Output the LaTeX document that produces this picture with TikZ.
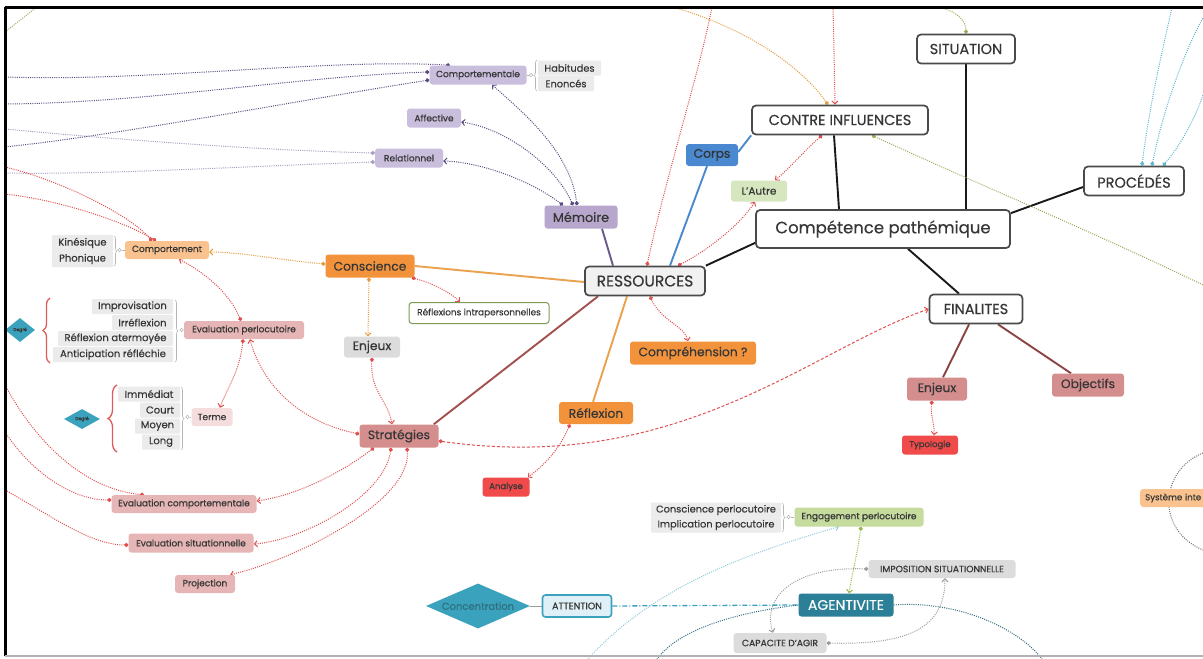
\documentclass[tikz,border=0pt]{standalone}
\usepackage{fontspec}
\setmainfont{Poppins}[RawFeature={embolden=0.4}]
\usetikzlibrary{arrows.meta,shapes.geometric,decorations.pathreplacing}
\pgfdeclarelayer{back}
\pgfdeclarelayer{bg}
\pgfsetlayers{back,bg,main}

\definecolor{ink}{HTML}{363636}
\definecolor{frame}{HTML}{4A4A4A}
\definecolor{resfill}{HTML}{F1F1F1}
\definecolor{purpleA}{HTML}{B8A7CD}
\definecolor{purpleB}{HTML}{CABEDD}
\definecolor{purpleLine}{HTML}{6A5A8C}
\definecolor{purpleDot}{HTML}{5A4C80}
\definecolor{purpleLight}{HTML}{A89DBC}
\definecolor{blueC}{HTML}{4A88CF}
\definecolor{orangeA}{HTML}{F2933C}
\definecolor{orangeB}{HTML}{F9C28E}
\definecolor{orangeLine}{HTML}{EBA24F}
\definecolor{orangeDot}{HTML}{E69A3A}
\definecolor{roseA}{HTML}{D58E8E}
\definecolor{roseB}{HTML}{E6B5B5}
\definecolor{roseC}{HTML}{F6DDDD}
\definecolor{brownLine}{HTML}{A3504F}
\definecolor{redA}{HTML}{F04A4A}
\definecolor{redDot}{HTML}{E04E4E}
\definecolor{greenA}{HTML}{D6E6BF}
\definecolor{greenB}{HTML}{C6DB9E}
\definecolor{greenBorder}{HTML}{7D9B55}
\definecolor{greenDot}{HTML}{9AB84A}
\definecolor{olive}{HTML}{A6A65A}
\definecolor{grayA}{HTML}{EBEBEB}
\definecolor{grayB}{HTML}{DCDCDC}
\definecolor{grayDot}{HTML}{9C9C9C}
\definecolor{tealA}{HTML}{3BA2BD}
\definecolor{tealB}{HTML}{2B7F96}
\definecolor{tealPale}{HTML}{DFF1F6}
\definecolor{tealDot}{HTML}{2F6F80}
\definecolor{cyanDot}{HTML}{5BB8CC}
\definecolor{skyDot}{HTML}{8CCBDB}
\definecolor{braceRed}{HTML}{E05A5A}
\definecolor{braceGray}{HTML}{B5B5B5}

\tikzset{
  sz/.style 2 args={minimum width=#1pt, minimum height=#2pt},
  fs/.style={font=\fontsize{#1}{#1}\selectfont},
  bx/.style={rectangle, rounded corners=3pt, inner sep=0pt, text=ink},
  mjr/.style={bx, draw=frame, line width=1.7pt, fill=white, rounded corners=4pt, fs=14.5},
  mdn/.style={bx, fs=12.3},
  smn/.style={bx, fs=9},
  itm/.style={bx, fill=grayA, rounded corners=1pt, fs=10},
  rhomb/.style={diamond, fill=tealA, inner sep=0pt, aspect=2.3},
  knot/.style={circle, draw=braceGray, line width=0.6pt, fill=white, inner sep=0pt, minimum size=3.5pt},
  lk/.style={line width=1.9pt},
  dotl/.style={line width=1pt, dash pattern=on 1pt off 1.2pt},
  dotarr/.style={dotl, arrows={Circle[length=4pt]-Straight Barb[length=3pt,width=6pt]}},
  arr/.style={dotl, arrows={-Straight Barb[length=3pt,width=6pt]}},
  dotend/.style={dotl, arrows={-Circle[length=4pt]}},
  dotbeg/.style={dotl, arrows={Circle[length=4pt]-}},
  brc/.style={decorate, decoration={brace, amplitude=#1}},
}

\begin{document}
\begin{tikzpicture}[x=1pt,y=-1pt]
\useasboundingbox (0,0) rectangle (1203,659);
\begin{pgfonlayer}{back}
\fill[white] (0,0) rectangle (1203,659);
\end{pgfonlayer}

% ---------- main branches ----------
\node[mjr, sz={254}{38}, fs=16.5] (comp) at (883,229) {Compétence pathémique};
\node[mjr, sz={98}{29}] (sit) at (966,49) {SITUATION};
\node[mjr, sz={176}{29}] (contre) at (840,120) {CONTRE INFLUENCES};
\node[mjr, sz={100}{29}] (proc) at (1134,181) {PROCÉDÉS};
\node[mjr, sz={93}{29}] (fin) at (976,309) {FINALITES};
\node[mjr, sz={120}{29}, fill=resfill, fs=15.5] (res) at (645,281) {RESSOURCES};

% ---------- second level ----------
\node[mdn, fill=purpleA, sz={73}{23}, fs=12.8] (mem) at (581,217) {Mémoire};
\node[mdn, fill=blueC, sz={52}{22}, text=black!80] (corps) at (712,155) {Corps};
\node[mdn, fill=orangeA, sz={89}{23}] (cons) at (370,266) {Conscience};
\node[mdn, fill=orangeA, sz={74}{22}] (refl) at (596,413) {Réflexion};
\node[mdn, fill=roseA, sz={79}{23}] (strat) at (399,436) {Stratégies};
\node[mdn, fill=orangeA, sz={126}{23}] (compr) at (693,353) {Compréhension ?};
\node[bx, fill=greenA, sz={56}{21}, fs=10.5] (autre) at (759,191) {L'Autre};
\node[mdn, fill=roseA, sz={60}{23}] (fenj) at (937,389) {Enjeux};
\node[mdn, fill=roseA, sz={72}{23}] (obj) at (1088,385) {Objectifs};
\node[smn, fill=redA, sz={56}{19}, fs=8.5] (typo) at (930,445) {Typologie};
\node[smn, fill=redA, sz={47}{19}, fs=8.5] (anal) at (506,487) {Analyse};

% ---------- memory ----------
\node[smn, fill=purpleB, sz={97}{19}] (cmpt) at (478,75) {Comportementale};
\node[smn, fill=purpleB, sz={54}{19}] (aff) at (434,118) {Affective};
\node[smn, fill=purpleB, sz={68}{19}] (rel) at (409,158) {Relationnel};
\node[itm, sz={63}{15}, fs=9.8] (hab) at (569.5,68) {Habitudes};
\node[itm, sz={56}{15}, fs=9.8] (eno) at (566,83.5) {Enoncés};

% ---------- conscience ----------
\node[smn, fill=orangeB, sz={84}{18}] (cmpb) at (167,250) {Comportement};
\node[itm, sz={61}{16}] (kin) at (82.5,243) {Kinésique};
\node[itm, sz={61}{16}] (pho) at (82.5,259) {Phonique};
\node[bx, fill=white, draw=greenBorder, line width=1pt, sz={140}{21}, fs=8.9] (rintra) at (479,313) {Réflexions intrapersonnelles};
\node[mdn, fill=grayB, sz={56}{21}] (cenj) at (372,347) {Enjeux};

% ---------- strategies ----------
\node[smn, fill=roseB, sz={120}{18}] (evp) at (244,330) {Evaluation perlocutoire};
\node[itm, sz={81}{15}] (imp) at (132.5,306.5) {Improvisation};
\node[itm, sz={61}{15}] (irr) at (142.5,322.5) {Irréflexion};
\node[itm, sz={115}{15}] (rat) at (115.5,338.5) {Réflexion atermoyée};
\node[itm, sz={120}{15}] (ant) at (113,354.5) {Anticipation réfléchie};
\node[smn, fill=roseC, sz={41}{18}] (terme) at (212,417) {Terme};
\node[itm, sz={62}{15}] (imm) at (149,394) {Immédiat};
\node[itm, sz={40}{15}] (crt) at (160,410) {Court};
\node[itm, sz={45}{15}] (moy) at (157.5,426) {Moyen};
\node[itm, sz={38}{15}] (lng) at (161,442) {Long};
\node[rhomb, sz={30}{24}, fs=4.5, text=ink] (dga) at (20,330) {Degré};
\node[rhomb, sz={36}{20}, fs=4.5, text=ink] (dgb) at (82,419) {Degré};
\node[smn, fill=roseB, sz={145}{18}] (evc) at (184,504) {Evaluation comportementale};
\node[smn, fill=roseB, sz={125}{19}] (evs) at (191,543) {Evaluation situationnelle};
\node[smn, fill=roseB, sz={60}{18}] (proj) at (205,584) {Projection};

% ---------- agentivity ----------
\node[itm, sz={130}{15}, fs=9.8] (cperl) at (716,510) {Conscience perlocutoire};
\node[itm, sz={130}{15}, fs=9.8] (iperl) at (716,525) {Implication perlocutoire};
\node[smn, fill=greenB, sz={129}{19}] (eng) at (859,517) {Engagement perlocutoire};
\node[bx, fill=grayB, sz={147}{18}, fs=9.2] (impo) at (942,569) {IMPOSITION SITUATIONNELLE};
\node[rhomb, sz={104}{45}, fs=10, text=tealDot] (conc) at (478,606) {Concentration};
\node[bx, fill=tealPale, draw=tealA, line width=1.6pt, sz={69}{22}, fs=9.5] (att) at (577,606) {ATTENTION};
\node[bx, fill=tealB, text=white, sz={95}{23}, fs=14] (agent) at (846,605) {AGENTIVITE};
\node[bx, fill=grayB, sz={93}{20}, fs=9.2] (capa) at (780,643) {CAPACITE D'AGIR};
\node[bx, fill=orangeB, anchor=west, text width=100pt, align=left, inner xsep=5pt, minimum height=18pt, fs=8.6] (syst) at (1140,498) {Système inte};

% ---------- list junctions ----------
\node[knot] (kk) at (119.5,250) {};
\node[knot] (ke) at (181.5,330) {};
\node[knot] (kt) at (187.5,417) {};
\node[knot] (kh) at (531,75) {};
\node[knot] (kc) at (788.5,517) {};

% ---------- loose ends at the border ----------
\coordinate (lA) at (5,77);   \coordinate (lB) at (5,104);  \coordinate (lC) at (5,147);
\coordinate (lD) at (5,129);  \coordinate (lE) at (5,173);
\coordinate (lF) at (5,167);  \coordinate (lG) at (5,194);
\coordinate (lH) at (5,385);  \coordinate (lI) at (5,432);  \coordinate (lJ) at (5,490);
\coordinate (lK) at (5,32);   \coordinate (tE) at (37,7);
\coordinate (tA) at (712,7);  \coordinate (tB) at (833,7);  \coordinate (tC) at (673,7);
\coordinate (tD) at (937,7);  \coordinate (tF) at (1172,7); \coordinate (tG) at (1203,18);
\coordinate (rA) at (1203,285); \coordinate (rB) at (1203,95);
\coordinate (rC) at (1203,453); \coordinate (rD) at (1203,550);
\coordinate (bA) at (588,659); \coordinate (bB) at (657,659); \coordinate (bC) at (1042,659);

\begin{pgfonlayer}{bg}
% solid branches
\draw[lk, black!90] (sit.south) -- (sit.south |- comp.north);
\draw[lk, black!90] ([xshift=-6pt]contre.south) -- ([xshift=-44pt]comp.north);
\draw[lk, black!90] ([yshift=-4pt]comp.north east) -- ([yshift=-6pt]proc.west);
\draw[lk, black!90] ([xshift=25pt]comp.south) -- ([xshift=-17pt]fin.north);
\draw[lk, black!90] ([yshift=6pt]comp.south west) -- (res.north east);
\draw[lk, purpleLine] ([xshift=21pt]mem.south) -- ([xshift=-32pt]res.north);
\draw[lk, blueC] ([xshift=-5pt]corps.south) -- ([xshift=25pt]res.north);
\draw[lk, blueC] ([yshift=3pt]corps.east) -- (contre.south west);
\draw[lk, orangeLine] (cons.east) -- ([yshift=-1pt]res.west);
\draw[lk, orangeLine] ([xshift=-3pt]refl.north) -- ([xshift=-18pt]res.south);
\draw[lk, brownLine] ([xshift=-5pt]strat.north east) -- ([xshift=-47pt]res.south);
\draw[lk, brownLine!85!black] ([xshift=-7pt]fin.south) -- ([xshift=6pt]fenj.north);
\draw[lk, brownLine!85!black] ([xshift=22pt]fin.south) -- ([xshift=-17pt]obj.north);

% memory links
\draw[dotarr, purpleDot] ([xshift=-18pt]mem.north) .. controls (530,180) and (480,162) .. ([yshift=-3pt]rel.east);
\draw[dotarr, purpleDot] ([xshift=-8pt]mem.north) .. controls (555,165) and (505,128) .. ([yshift=-4pt]aff.east);
\draw[dotarr, purpleDot] ([xshift=-4pt]mem.north) .. controls (570,150) and (520,110) .. ([xshift=14pt]cmpt.south);
\draw[dotbeg, purpleDot] ([xshift=-28pt]cmpt.north) .. controls (330,58) and (150,82) .. (lA);
\draw[dotbeg, purpleDot] ([yshift=3pt]cmpt.west) .. controls (300,76) and (150,103) .. (lB);
\draw[dotbeg, purpleDot] ([yshift=-5pt]cmpt.west) .. controls (300,100) and (120,135) .. (lC);
\draw[dotbeg, purpleLight] ([yshift=5pt]rel.west) .. controls (250,150) and (100,138) .. (lD);
\draw[dotbeg, purpleLight] ([yshift=-4pt]rel.west) .. controls (250,166) and (100,175) .. (lE);

% red links
\draw[dotbeg, redDot] ([xshift=2pt]res.north) .. controls (665,180) and (700,70) .. (tA);
\draw[dotarr, redDot] ([xshift=33pt]res.north) .. controls (712,248) and (742,222) .. ([xshift=-4pt]autre.south);
\draw[dotarr, redDot] ([xshift=-18pt]contre.south) .. controls (805,150) and (790,168) .. ([xshift=16pt]autre.north);
\draw[arr, redDot] (tB) .. controls (834,50) .. ([xshift=-5pt]contre.north);
\draw[dotarr, redDot] ([xshift=5pt]res.south) .. controls (662,322) and (684,325) .. ([xshift=-5pt]compr.north);
\draw[dotarr, redDot] ([xshift=-3pt]cons.south east) .. controls (432,283) and (450,292) .. ([xshift=-19pt]rintra.north);
\draw[dotarr, redDot] (cenj.south) .. controls (370,392) and (388,400) .. ([xshift=-7pt]strat.north);
\draw[dotarr, redDot] ([yshift=2pt]strat.west) .. controls (300,422) and (262,385) .. ([xshift=6pt]evp.south);
\draw[dotarr, redDot] ([xshift=-3pt]evp.north) .. controls (228,290) and (200,270) .. ([xshift=12pt]cmpb.south);
\draw[dotarr, redDot] ([xshift=-1pt]evp.south) .. controls (240,372) and (225,392) .. ([xshift=8pt]terme.north);
\draw[dotarr, redDot] ([xshift=-25pt]strat.south) .. controls (345,470) and (300,495) .. ([yshift=3pt]evc.east);
\draw[dotarr, redDot] ([xshift=-8pt]strat.south) .. controls (385,495) and (305,540) .. ([yshift=-1pt]evs.east);
\draw[dotarr, redDot] ([xshift=8pt]strat.south) .. controls (412,500) and (300,558) .. ([xshift=-5pt]proj.north east);
\draw[dotend, redDot] (lF) .. controls (60,180) and (130,215) .. ([xshift=-15pt]cmpb.north);
\draw[dotend, redDot] (lG) .. controls (60,200) and (125,222) .. ([xshift=-11pt]cmpb.north);
\draw[dotend, redDot] (lH) .. controls (40,450) and (90,490) .. ([xshift=-40pt]evc.north);
\draw[dotend, redDot] (lI) .. controls (30,470) and (70,500) .. ([yshift=4pt]evc.west);
\draw[dotend, redDot] (lJ) .. controls (50,515) and (90,545) .. ([yshift=-2pt]evs.west);
\draw[dotarr, redDot] ([xshift=-26pt]refl.south) .. controls (560,448) and (545,465) .. ([xshift=-2pt]anal.north east);
\draw[dotarr, redDot] ([xshift=-5pt]fenj.south) .. controls (930,415) and (935,425) .. ([xshift=4pt]typo.north);
\draw[redDot, line width=1pt, dash pattern=on 3pt off 2pt, arrows={Circle[length=4pt]-Straight Barb[length=3pt,width=6pt]}]
  ([yshift=-5pt]strat.east) .. controls (680,475) and (810,350) .. (fin.west);

% orange links
\draw[dotarr, orangeDot] ([yshift=2pt]cons.west) .. controls (280,260) and (240,252) .. ([yshift=-2pt]cmpb.east);
\draw[dotarr, orangeDot] ([xshift=-1pt]cons.south) -- ([xshift=-4pt]cenj.north);
\draw[dotend, orangeDot] (tC) .. controls (745,28) and (800,65) .. ([xshift=-12pt]contre.north);

% olive links
\draw[dotend, olive] (tD) .. controls (955,10) and (966,20) .. (sit.north);
\draw[dotbeg, olive] ([xshift=32pt]contre.south) .. controls (980,185) and (1100,235) .. (rA);
\draw[dotl, olive] (lK) -- (tE);

% procedures
\draw[dotbeg, cyanDot] ([xshift=8pt]proc.north) .. controls (1150,100) and (1165,40) .. (tF);
\draw[dotbeg, cyanDot] ([xshift=18pt]proc.north) .. controls (1165,100) and (1190,40) .. (tG);
\draw[dotbeg, cyanDot] ([xshift=29pt]proc.north) .. controls (1185,140) and (1198,110) .. (rB);

% agentivity
\draw[dotarr, greenDot] ([xshift=2pt]eng.south) .. controls (858,550) and (852,575) .. ([xshift=3pt]agent.north);
\draw[arr, skyDot] (bA) .. controls (650,590) and (740,555) .. ([xshift=-20pt]eng.south);
\draw[dotarr, grayDot] (impo.west) .. controls (790,566) and (762,600) .. ([xshift=-7pt]capa.north);
\draw[dotarr, grayDot] (capa.east) .. controls (905,645) and (945,630) .. ([xshift=3pt]impo.south);
\draw[tealA, line width=1.3pt, dash pattern=on 5pt off 2pt on 1pt off 2pt] (att.east) -- (agent.west);
\draw[grayDot, line width=0.6pt] (conc.east) -- (att.west);
\draw[dotl, tealDot] (agent.west) .. controls (740,612) and (680,628) .. (bB);
\draw[dotl, tealDot] (agent.east) .. controls (960,600) and (1020,630) .. (bC);
\draw[dotl, black!55] (rC) .. controls (1160,470) and (1155,530) .. (rD);

% list junctions
\draw[braceGray, line width=0.6pt] (kk) -- (cmpb.west);
\draw[braceGray, line width=0.6pt] (ke) -- (evp.west);
\draw[braceGray, line width=0.6pt] (kt) -- (terme.west);
\draw[braceGray, line width=0.6pt] (kh) -- (cmpt.east);
\draw[braceGray, line width=0.6pt] (kc) -- (eng.west);
\end{pgfonlayer}

% braces
\draw[braceGray, line width=0.6pt, brc=3pt] (114,236) -- (114,266);
\draw[braceGray, line width=0.6pt, brc=3pt] (175,300) -- (175,362);
\draw[braceGray, line width=0.6pt, brc=3pt] (181,387) -- (181,450);
\draw[braceGray, line width=0.6pt, brc=3pt] (537,91) -- (537,60);
\draw[braceGray, line width=0.6pt, brc=3pt] (782,503) -- (782,532);
\draw[braceRed, line width=1.3pt, brc=7pt] (50,363) -- (50,298);
\draw[braceRed, line width=1.3pt, brc=9pt] (117,452) -- (117,385);

% frame
\draw[black, line width=3pt] (5,7) -- (1203,7);
\draw[black, line width=3pt] (5,7) -- (5,656);
\draw[black!30, line width=1.5pt] (5,656) -- (1203,656);
\end{tikzpicture}
\end{document}
